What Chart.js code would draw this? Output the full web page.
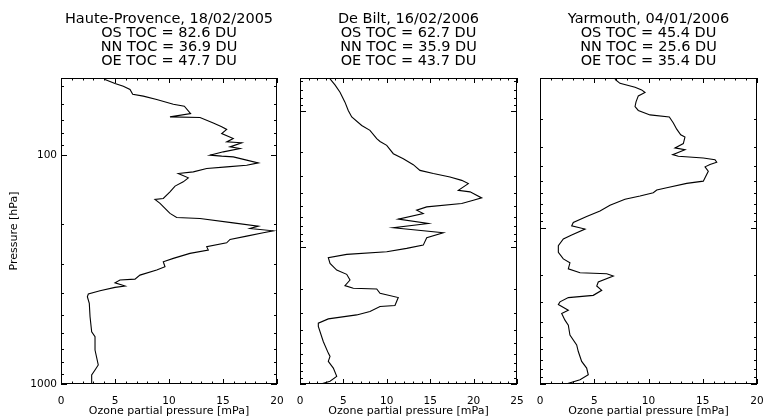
<!DOCTYPE html>
<html>
<head>
<meta charset="utf-8">
<script src="https://cdn.jsdelivr.net/npm/chart.js@4.4.1/dist/chart.umd.min.js"></script>
<style>
  html, body { margin: 0; padding: 0; background: #fff; }
  #wrap { position: relative; width: 764px; height: 420px; }
  canvas { position: absolute; top: 0; }
</style>
</head>
<body>
<div id="wrap">
  <canvas id="c1" width="288" height="420" style="left:0px"></canvas>
  <canvas id="c2" width="240" height="420" style="left:288px"></canvas>
  <canvas id="c3" width="236" height="420" style="left:528px"></canvas>
</div>
<script>
// Tick positions on the pressure axis (hPa)
const pressureTicks = [5, 6, 7, 8, 9, 10, 20, 30, 40, 50, 60, 70, 80, 90,
  100, 200, 300, 400, 500, 600, 700, 800, 900, 1000];
const majorPressure = [10, 100, 1000];
const labeledPressure = [100, 1000];

// Haute-Provence, 18/02/2005
const hpTitle = ['Haute-Provence, 18/02/2005', 'OS TOC = 82.6 DU', 'NN TOC = 36.9 DU', 'OE TOC = 47.7 DU'];
const hpOzone = [4.01, 5.00, 5.77, 6.39, 6.64, 7.62, 8.86, 10.40, 11.42, 12.00,
  10.09, 12.87, 14.10, 14.88, 15.34, 14.88, 15.95, 15.34, 16.73, 15.65,
  16.57, 15.03, 13.80, 14.88, 15.95, 17.19, 18.27, 17.19, 15.34, 13.49,
  12.25, 10.86, 11.79, 11.32, 10.56, 10.09, 9.47, 8.70, 9.17, 9.63,
  10.09, 10.71, 12.87, 15.95, 18.27, 17.50, 19.66, 18.73, 17.19, 15.65,
  15.34, 13.49, 13.64, 11.94, 10.40, 9.47, 9.63, 8.86, 7.31, 6.85,
  5.46, 5.00, 5.93, 5.00, 3.61, 2.53, 2.44, 2.62, 2.69, 2.84,
  3.15, 3.15, 3.45, 3.15, 2.84, 2.84];
const hpPressure = [46.6, 48.6, 50.0, 51.6, 54.2, 55.2, 57.1, 59.9, 61.1, 65.8,
  68.0, 68.5, 72.3, 75.2, 77.2, 80.4, 84.5, 87.5, 88.3, 92.0,
  93.5, 96.7, 100, 101, 101.7, 105.1, 108.1, 110.6, 112.5, 114.3,
  118.3, 120.2, 125.6, 130.8, 136.5, 144.6, 154.6, 156.2, 162.5, 170.9,
  179.7, 187.1, 189, 197.6, 204.2, 209, 214.1, 218.4, 225.8, 233.4,
  241.5, 251.3, 260, 268.7, 282.5, 292.4, 307.4, 317.8, 334.3, 348,
  351.4, 361.2, 373.3, 378.2, 391.4, 404.6, 415.6, 444.3, 508.3, 591.1,
  621.6, 710.3, 826, 868.9, 913.5, 1000];

// De Bilt, 16/02/2006
const dbTitle = ['De Bilt, 16/02/2006', 'OS TOC = 62.7 DU', 'NN TOC = 35.9 DU', 'OE TOC = 43.7 DU'];
const dbOzone = [3.46, 4.03, 4.61, 5.18, 5.56, 5.96, 7.11, 8.06, 8.84, 9.22,
  9.99, 10.75, 11.90, 13.05, 13.82, 15.36, 17.28, 18.63, 19.39, 18.24,
  19.59, 20.93, 19.97, 18.63, 14.60, 13.44, 14.20, 11.32, 14.78, 10.75,
  16.51, 14.60, 14.20, 12.29, 9.99, 5.38, 3.26, 3.46, 4.23, 5.38,
  5.76, 5.18, 6.14, 8.84, 9.22, 11.32, 10.94, 9.22, 8.06, 6.53,
  3.26, 2.11, 2.11, 2.68, 3.26, 3.46, 3.26, 3.84, 4.23, 3.46, 2.40];
const dbPressure = [5.84, 6.46, 7.30, 8.64, 9.95, 11.1, 12.8, 13.9, 16.0, 16.75,
  17.9, 20.6, 22.4, 24.8, 27.3, 28.8, 30.5, 32.3, 34.1, 38.2,
  39.2, 43.4, 45.2, 47.7, 50.5, 53.4, 56.5, 62.1, 66.8, 71.8,
  78.1, 84.9, 96.2, 101.7, 107.5, 112.5, 118.9, 130.9, 146.5, 157.4,
  173.3, 190.4, 199.2, 201.5, 216.7, 232.9, 266.4, 271, 294.6, 312,
  333.6, 358.7, 379.2, 488.2, 594, 628, 682.7, 764.4, 878.6, 955.6, 1000];

// Yarmouth, 04/01/2006
const yaTitle = ['Yarmouth, 04/01/2006', 'OS TOC = 45.4 DU', 'NN TOC = 25.6 DU', 'OE TOC = 35.4 DU'];
const yaOzone = [6.91, 7.37, 8.76, 9.37, 9.68, 9.06, 8.85, 8.76, 9.06, 10.14,
  11.92, 12.29, 12.60, 12.97, 13.36, 13.21, 12.44, 13.36, 12.23, 12.75,
  15.05, 16.13, 16.29, 15.67, 15.21, 15.51, 15.05, 13.52, 11.68, 10.76,
  10.44, 9.22, 7.83, 6.45, 5.53, 4.30, 3.07, 2.92, 4.15, 2.92,
  2.15, 1.69, 1.69, 2.15, 2.76, 2.61, 3.69, 6.15, 6.76, 5.37,
  5.23, 5.69, 4.91, 2.61, 1.84, 1.69, 2.61, 2.00, 2.30, 2.61,
  2.76, 3.38, 3.53, 3.84, 4.30, 4.45, 3.69, 2.40];
const yaPressure = [11.1, 11.8, 12.5, 13.0, 13.5, 14.2, 15.5, 16.6, 17.6, 18.8,
  19.4, 21.2, 23.2, 25.2, 26.1, 28.7, 30.6, 31.4, 33.8, 34.6,
  35.5, 36.4, 37.8, 39.1, 40.5, 43.2, 50.0, 51.7, 55.1, 57.0,
  59.3, 62.3, 65.3, 71.4, 77.6, 84.2, 92.0, 96.7, 101.5, 110.8,
  117.5, 129.6, 142.8, 157.6, 167.1, 182.4, 193.5, 196.3, 203.0, 221.8,
  235.1, 250.8, 270, 279.2, 297.3, 309.4, 336.4, 353.1, 389.3, 419,
  485.3, 562, 619.2, 716.4, 790.7, 872.7, 938.8, 1000];

Chart.defaults.font.family = "'DejaVu Sans', sans-serif";
Chart.defaults.color = '#000';

// IDL-style box with inward ticks on all four sides
const frameTicks = {
  id: 'frameTicks',
  afterDraw(chart) {
    const { ctx, chartArea: a, scales: { x, y } } = chart;
    ctx.save();
    ctx.strokeStyle = '#000';
    ctx.lineWidth = 1;
    ctx.strokeRect(a.left + 0.5, a.top + 0.5, a.right - a.left - 1, a.bottom - a.top - 1);
    ctx.beginPath();
    for (let v = Math.ceil(x.min); v <= x.max; v++) {
      const px = Math.round(x.getPixelForValue(v)) + 0.5;
      const len = v % 5 === 0 ? 5 : 2.5;
      ctx.moveTo(px, a.bottom); ctx.lineTo(px, a.bottom - len);
      ctx.moveTo(px, a.top); ctx.lineTo(px, a.top + len);
    }
    pressureTicks.filter(p => p >= y.min && p <= y.max).forEach(p => {
      const py = Math.round(y.getPixelForValue(p)) + 0.5;
      const len = majorPressure.includes(p) ? 6 : 3;
      ctx.moveTo(a.left, py); ctx.lineTo(a.left + len, py);
      ctx.moveTo(a.right, py); ctx.lineTo(a.right - len, py);
    });
    ctx.stroke();
    ctx.restore();
  }
};

function makeProfile(id, title, ozone, pressure, xMax, pMin, yWidth, padRight, showY) {
  return new Chart(document.getElementById(id), {
    type: 'scatter',
    data: {
      datasets: [{
        data: ozone.map((o, i) => ({ x: o, y: pressure[i] })),
        showLine: true,
        borderColor: '#000',
        borderWidth: 1.1,
        pointRadius: 0,
        tension: 0
      }]
    },
    options: {
      responsive: false,
      animation: false,
      layout: { padding: { left: 0, right: padRight, top: 0, bottom: 0 } },
      plugins: {
        legend: { display: false },
        tooltip: { enabled: false },
        title: {
          display: true,
          text: title,
          fullSize: false,
          color: '#000',
          font: { size: 14.5, weight: 'normal', lineHeight: 14 / 14.5 },
          padding: { top: 12, bottom: 10 }
        }
      },
      scales: {
        x: {
          type: 'linear',
          min: 0,
          max: xMax,
          afterFit: s => {
            s.height = 36;
            // edge labels fit inside the layout padding
            s.paddingLeft = 0;
            s.paddingRight = 0;
          },
          grid: { display: false, drawTicks: false },
          border: { display: false },
          ticks: { stepSize: 5, font: { size: 10.5 }, padding: 11, maxRotation: 0, autoSkip: false },
          title: {
            display: true,
            text: 'Ozone partial pressure [mPa]',
            font: { size: 11 },
            padding: { top: 0, bottom: 2 }
          }
        },
        y: {
          type: 'logarithmic',
          reverse: true,
          min: pMin,
          max: 1000,
          afterFit: s => {
            s.width = yWidth;
            s.paddingTop = 0;
            s.paddingBottom = 0;
          },
          afterBuildTicks: s => {
            s.ticks = pressureTicks.filter(p => p >= pMin && p <= 1000).map(p => ({ value: p }));
          },
          grid: { display: false, drawTicks: false },
          border: { display: false },
          ticks: {
            display: showY,
            autoSkip: false,
            padding: 4,
            font: { size: 10.5 },
            callback: v => labeledPressure.includes(v) ? String(v) : null
          },
          title: {
            display: showY,
            text: 'Pressure [hPa]',
            font: { size: 11 },
            padding: { top: 8, bottom: 0 }
          }
        }
      }
    },
    plugins: [frameTicks]
  });
}

makeProfile('c1', hpTitle, hpOzone, hpPressure, 20, 46, 61, 11, true);
makeProfile('c2', dbTitle, dbOzone, dbPressure, 25, 5.75, 12, 11, false);
makeProfile('c3', yaTitle, yaOzone, yaPressure, 20, 10.9, 12, 7, false);
</script>
</body>
</html>
